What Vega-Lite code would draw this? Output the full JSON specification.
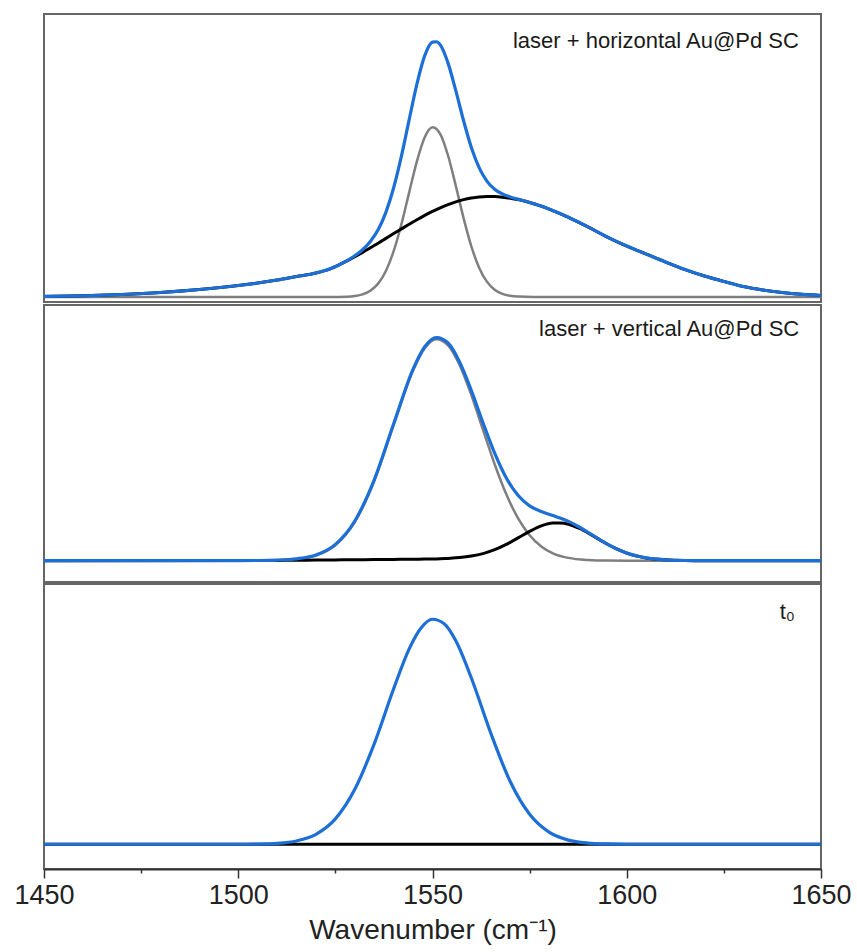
{
  "$schema": "https://vega.github.io/schema/vega-lite/v6.json",
  "padding": {"left": 12, "top": 13, "right": 0, "bottom": 0},
  "spacing": 0,
  "config": {
    "view": {"stroke": "#666666", "strokeWidth": 2},
    "font": "Liberation Sans"
  },
  "datasets": {
    "top": [
      {"series": "band A", "wavenumber": 1450, "intensity": 0},
      {"series": "band A", "wavenumber": 1500, "intensity": 0},
      {"series": "band A", "wavenumber": 1524, "intensity": 0},
      {"series": "band A", "wavenumber": 1528, "intensity": 0.3},
      {"series": "band A", "wavenumber": 1530, "intensity": 1.0},
      {"series": "band A", "wavenumber": 1532, "intensity": 2.6},
      {"series": "band A", "wavenumber": 1534, "intensity": 6.3},
      {"series": "band A", "wavenumber": 1536, "intensity": 13.4},
      {"series": "band A", "wavenumber": 1538, "intensity": 26.1},
      {"series": "band A", "wavenumber": 1540, "intensity": 45.9},
      {"series": "band A", "wavenumber": 1542, "intensity": 72.9},
      {"series": "band A", "wavenumber": 1544, "intensity": 104.8},
      {"series": "band A", "wavenumber": 1546, "intensity": 136.1},
      {"series": "band A", "wavenumber": 1548, "intensity": 160},
      {"series": "band A", "wavenumber": 1550, "intensity": 170},
      {"series": "band A", "wavenumber": 1552, "intensity": 163.2},
      {"series": "band A", "wavenumber": 1554, "intensity": 141.7},
      {"series": "band A", "wavenumber": 1556, "intensity": 111.3},
      {"series": "band A", "wavenumber": 1558, "intensity": 79},
      {"series": "band A", "wavenumber": 1560, "intensity": 50.7},
      {"series": "band A", "wavenumber": 1562, "intensity": 29.4},
      {"series": "band A", "wavenumber": 1564, "intensity": 15.4},
      {"series": "band A", "wavenumber": 1566, "intensity": 7.3},
      {"series": "band A", "wavenumber": 1568, "intensity": 3.1},
      {"series": "band A", "wavenumber": 1570, "intensity": 1.2},
      {"series": "band A", "wavenumber": 1572, "intensity": 0.4},
      {"series": "band A", "wavenumber": 1576, "intensity": 0},
      {"series": "band A", "wavenumber": 1650, "intensity": 0},

      {"series": "band B", "wavenumber": 1450, "intensity": 0.6},
      {"series": "band B", "wavenumber": 1460, "intensity": 1.2},
      {"series": "band B", "wavenumber": 1470, "intensity": 2.5},
      {"series": "band B", "wavenumber": 1480, "intensity": 4.5},
      {"series": "band B", "wavenumber": 1490, "intensity": 7.5},
      {"series": "band B", "wavenumber": 1500, "intensity": 11.5},
      {"series": "band B", "wavenumber": 1505, "intensity": 14},
      {"series": "band B", "wavenumber": 1510, "intensity": 17},
      {"series": "band B", "wavenumber": 1515, "intensity": 20.5},
      {"series": "band B", "wavenumber": 1520, "intensity": 24},
      {"series": "band B", "wavenumber": 1524, "intensity": 28.7},
      {"series": "band B", "wavenumber": 1528, "intensity": 36.2},
      {"series": "band B", "wavenumber": 1530, "intensity": 40.3},
      {"series": "band B", "wavenumber": 1532, "intensity": 44.7},
      {"series": "band B", "wavenumber": 1534, "intensity": 49.3},
      {"series": "band B", "wavenumber": 1536, "intensity": 53.9},
      {"series": "band B", "wavenumber": 1538, "intensity": 58.7},
      {"series": "band B", "wavenumber": 1540, "intensity": 63.5},
      {"series": "band B", "wavenumber": 1542, "intensity": 68.2},
      {"series": "band B", "wavenumber": 1544, "intensity": 72.9},
      {"series": "band B", "wavenumber": 1546, "intensity": 77.4},
      {"series": "band B", "wavenumber": 1548, "intensity": 81.7},
      {"series": "band B", "wavenumber": 1550, "intensity": 85.7},
      {"series": "band B", "wavenumber": 1552, "intensity": 89.3},
      {"series": "band B", "wavenumber": 1554, "intensity": 92.5},
      {"series": "band B", "wavenumber": 1556, "intensity": 95.3},
      {"series": "band B", "wavenumber": 1558, "intensity": 97.5},
      {"series": "band B", "wavenumber": 1560, "intensity": 99.1},
      {"series": "band B", "wavenumber": 1562, "intensity": 100.2},
      {"series": "band B", "wavenumber": 1564, "intensity": 100.7},
      {"series": "band B", "wavenumber": 1566, "intensity": 100.6},
      {"series": "band B", "wavenumber": 1568, "intensity": 100},
      {"series": "band B", "wavenumber": 1570, "intensity": 99},
      {"series": "band B", "wavenumber": 1572, "intensity": 97.6},
      {"series": "band B", "wavenumber": 1575, "intensity": 94.7},
      {"series": "band B", "wavenumber": 1578, "intensity": 91},
      {"series": "band B", "wavenumber": 1580, "intensity": 88.1},
      {"series": "band B", "wavenumber": 1585, "intensity": 79.8},
      {"series": "band B", "wavenumber": 1590, "intensity": 70.2},
      {"series": "band B", "wavenumber": 1595, "intensity": 60},
      {"series": "band B", "wavenumber": 1600, "intensity": 51},
      {"series": "band B", "wavenumber": 1605, "intensity": 43},
      {"series": "band B", "wavenumber": 1610, "intensity": 35},
      {"series": "band B", "wavenumber": 1615, "intensity": 27.5},
      {"series": "band B", "wavenumber": 1620, "intensity": 21},
      {"series": "band B", "wavenumber": 1625, "intensity": 15.5},
      {"series": "band B", "wavenumber": 1630, "intensity": 10.5},
      {"series": "band B", "wavenumber": 1635, "intensity": 7},
      {"series": "band B", "wavenumber": 1640, "intensity": 4.5},
      {"series": "band B", "wavenumber": 1645, "intensity": 2.7},
      {"series": "band B", "wavenumber": 1650, "intensity": 1.5},

      {"series": "sum", "wavenumber": 1450, "intensity": 0.6},
      {"series": "sum", "wavenumber": 1460, "intensity": 1.2},
      {"series": "sum", "wavenumber": 1470, "intensity": 2.5},
      {"series": "sum", "wavenumber": 1480, "intensity": 4.5},
      {"series": "sum", "wavenumber": 1490, "intensity": 7.5},
      {"series": "sum", "wavenumber": 1500, "intensity": 11.5},
      {"series": "sum", "wavenumber": 1505, "intensity": 14},
      {"series": "sum", "wavenumber": 1510, "intensity": 17},
      {"series": "sum", "wavenumber": 1515, "intensity": 20.5},
      {"series": "sum", "wavenumber": 1520, "intensity": 24},
      {"series": "sum", "wavenumber": 1524, "intensity": 28.7},
      {"series": "sum", "wavenumber": 1528, "intensity": 36.5},
      {"series": "sum", "wavenumber": 1530, "intensity": 41.3},
      {"series": "sum", "wavenumber": 1532, "intensity": 47.3},
      {"series": "sum", "wavenumber": 1534, "intensity": 55.6},
      {"series": "sum", "wavenumber": 1536, "intensity": 67.3},
      {"series": "sum", "wavenumber": 1538, "intensity": 84.8},
      {"series": "sum", "wavenumber": 1540, "intensity": 109.4},
      {"series": "sum", "wavenumber": 1542, "intensity": 141.1},
      {"series": "sum", "wavenumber": 1544, "intensity": 177.7},
      {"series": "sum", "wavenumber": 1546, "intensity": 213.5},
      {"series": "sum", "wavenumber": 1548, "intensity": 241.7},
      {"series": "sum", "wavenumber": 1550, "intensity": 255.2},
      {"series": "sum", "wavenumber": 1551, "intensity": 255.6},
      {"series": "sum", "wavenumber": 1552, "intensity": 252.5},
      {"series": "sum", "wavenumber": 1554, "intensity": 234.2},
      {"series": "sum", "wavenumber": 1556, "intensity": 206.6},
      {"series": "sum", "wavenumber": 1558, "intensity": 176.5},
      {"series": "sum", "wavenumber": 1560, "intensity": 149.8},
      {"series": "sum", "wavenumber": 1562, "intensity": 129.6},
      {"series": "sum", "wavenumber": 1564, "intensity": 116.1},
      {"series": "sum", "wavenumber": 1566, "intensity": 107.9},
      {"series": "sum", "wavenumber": 1568, "intensity": 103.1},
      {"series": "sum", "wavenumber": 1570, "intensity": 100.2},
      {"series": "sum", "wavenumber": 1572, "intensity": 98},
      {"series": "sum", "wavenumber": 1575, "intensity": 94.7},
      {"series": "sum", "wavenumber": 1578, "intensity": 91},
      {"series": "sum", "wavenumber": 1580, "intensity": 88.1},
      {"series": "sum", "wavenumber": 1585, "intensity": 79.8},
      {"series": "sum", "wavenumber": 1590, "intensity": 70.2},
      {"series": "sum", "wavenumber": 1595, "intensity": 60},
      {"series": "sum", "wavenumber": 1600, "intensity": 51},
      {"series": "sum", "wavenumber": 1605, "intensity": 43},
      {"series": "sum", "wavenumber": 1610, "intensity": 35},
      {"series": "sum", "wavenumber": 1615, "intensity": 27.5},
      {"series": "sum", "wavenumber": 1620, "intensity": 21},
      {"series": "sum", "wavenumber": 1625, "intensity": 15.5},
      {"series": "sum", "wavenumber": 1630, "intensity": 10.5},
      {"series": "sum", "wavenumber": 1635, "intensity": 7},
      {"series": "sum", "wavenumber": 1640, "intensity": 4.5},
      {"series": "sum", "wavenumber": 1645, "intensity": 2.7},
      {"series": "sum", "wavenumber": 1650, "intensity": 1.5}
    ],
    "mid": [
      {"series": "band A", "wavenumber": 1450, "intensity": 0},
      {"series": "band A", "wavenumber": 1505, "intensity": 0},
      {"series": "band A", "wavenumber": 1510, "intensity": 0.3},
      {"series": "band A", "wavenumber": 1515, "intensity": 1.4},
      {"series": "band A", "wavenumber": 1520, "intensity": 5.1},
      {"series": "band A", "wavenumber": 1525, "intensity": 15.5},
      {"series": "band A", "wavenumber": 1530, "intensity": 38.7},
      {"series": "band A", "wavenumber": 1535, "intensity": 79.7},
      {"series": "band A", "wavenumber": 1540, "intensity": 135.6},
      {"series": "band A", "wavenumber": 1545, "intensity": 190.1},
      {"series": "band A", "wavenumber": 1548, "intensity": 212.4},
      {"series": "band A", "wavenumber": 1551, "intensity": 221.4},
      {"series": "band A", "wavenumber": 1554, "intensity": 215.4},
      {"series": "band A", "wavenumber": 1557, "intensity": 195.5},
      {"series": "band A", "wavenumber": 1560, "intensity": 165.6},
      {"series": "band A", "wavenumber": 1563, "intensity": 130.8},
      {"series": "band A", "wavenumber": 1566, "intensity": 96.5},
      {"series": "band A", "wavenumber": 1569, "intensity": 66.4},
      {"series": "band A", "wavenumber": 1572, "intensity": 42.6},
      {"series": "band A", "wavenumber": 1575, "intensity": 25.5},
      {"series": "band A", "wavenumber": 1578, "intensity": 14.3},
      {"series": "band A", "wavenumber": 1581, "intensity": 7.4},
      {"series": "band A", "wavenumber": 1585, "intensity": 2.8},
      {"series": "band A", "wavenumber": 1590, "intensity": 0.7},
      {"series": "band A", "wavenumber": 1595, "intensity": 0.1},
      {"series": "band A", "wavenumber": 1600, "intensity": 0},
      {"series": "band A", "wavenumber": 1650, "intensity": 0},

      {"series": "band B", "wavenumber": 1450, "intensity": 0},
      {"series": "band B", "wavenumber": 1500, "intensity": 0.1},
      {"series": "band B", "wavenumber": 1510, "intensity": 0.3},
      {"series": "band B", "wavenumber": 1515, "intensity": 0.5},
      {"series": "band B", "wavenumber": 1520, "intensity": 0.6},
      {"series": "band B", "wavenumber": 1525, "intensity": 0.8},
      {"series": "band B", "wavenumber": 1530, "intensity": 1},
      {"series": "band B", "wavenumber": 1535, "intensity": 1.1},
      {"series": "band B", "wavenumber": 1540, "intensity": 1.3},
      {"series": "band B", "wavenumber": 1545, "intensity": 1.5},
      {"series": "band B", "wavenumber": 1548, "intensity": 1.6},
      {"series": "band B", "wavenumber": 1551, "intensity": 1.7},
      {"series": "band B", "wavenumber": 1554, "intensity": 2.3},
      {"series": "band B", "wavenumber": 1557, "intensity": 3.1},
      {"series": "band B", "wavenumber": 1560, "intensity": 4.6},
      {"series": "band B", "wavenumber": 1563, "intensity": 7.1},
      {"series": "band B", "wavenumber": 1566, "intensity": 11},
      {"series": "band B", "wavenumber": 1569, "intensity": 16.3},
      {"series": "band B", "wavenumber": 1572, "intensity": 22.8},
      {"series": "band B", "wavenumber": 1575, "intensity": 29.3},
      {"series": "band B", "wavenumber": 1578, "intensity": 34.8},
      {"series": "band B", "wavenumber": 1581, "intensity": 37.7},
      {"series": "band B", "wavenumber": 1583, "intensity": 37.8},
      {"series": "band B", "wavenumber": 1585, "intensity": 36.5},
      {"series": "band B", "wavenumber": 1588, "intensity": 32},
      {"series": "band B", "wavenumber": 1591, "intensity": 25.6},
      {"series": "band B", "wavenumber": 1594, "intensity": 18.7},
      {"series": "band B", "wavenumber": 1597, "intensity": 12.5},
      {"series": "band B", "wavenumber": 1600, "intensity": 7.6},
      {"series": "band B", "wavenumber": 1605, "intensity": 2.8},
      {"series": "band B", "wavenumber": 1610, "intensity": 0.9},
      {"series": "band B", "wavenumber": 1615, "intensity": 0.2},
      {"series": "band B", "wavenumber": 1620, "intensity": 0},
      {"series": "band B", "wavenumber": 1650, "intensity": 0},

      {"series": "sum", "wavenumber": 1450, "intensity": 0},
      {"series": "sum", "wavenumber": 1500, "intensity": 0.1},
      {"series": "sum", "wavenumber": 1505, "intensity": 0.2},
      {"series": "sum", "wavenumber": 1510, "intensity": 0.6},
      {"series": "sum", "wavenumber": 1515, "intensity": 1.9},
      {"series": "sum", "wavenumber": 1520, "intensity": 5.7},
      {"series": "sum", "wavenumber": 1525, "intensity": 16.3},
      {"series": "sum", "wavenumber": 1530, "intensity": 39.7},
      {"series": "sum", "wavenumber": 1535, "intensity": 80.8},
      {"series": "sum", "wavenumber": 1540, "intensity": 136.9},
      {"series": "sum", "wavenumber": 1545, "intensity": 191.6},
      {"series": "sum", "wavenumber": 1548, "intensity": 214},
      {"series": "sum", "wavenumber": 1551, "intensity": 223.1},
      {"series": "sum", "wavenumber": 1554, "intensity": 217.7},
      {"series": "sum", "wavenumber": 1557, "intensity": 198.6},
      {"series": "sum", "wavenumber": 1560, "intensity": 170.2},
      {"series": "sum", "wavenumber": 1563, "intensity": 137.9},
      {"series": "sum", "wavenumber": 1566, "intensity": 107.5},
      {"series": "sum", "wavenumber": 1569, "intensity": 82.7},
      {"series": "sum", "wavenumber": 1572, "intensity": 65.4},
      {"series": "sum", "wavenumber": 1575, "intensity": 54.8},
      {"series": "sum", "wavenumber": 1578, "intensity": 49.1},
      {"series": "sum", "wavenumber": 1581, "intensity": 45.1},
      {"series": "sum", "wavenumber": 1583, "intensity": 42.4},
      {"series": "sum", "wavenumber": 1585, "intensity": 39.3},
      {"series": "sum", "wavenumber": 1588, "intensity": 33.2},
      {"series": "sum", "wavenumber": 1591, "intensity": 26},
      {"series": "sum", "wavenumber": 1594, "intensity": 18.8},
      {"series": "sum", "wavenumber": 1597, "intensity": 12.5},
      {"series": "sum", "wavenumber": 1600, "intensity": 7.6},
      {"series": "sum", "wavenumber": 1605, "intensity": 2.8},
      {"series": "sum", "wavenumber": 1610, "intensity": 0.9},
      {"series": "sum", "wavenumber": 1615, "intensity": 0.2},
      {"series": "sum", "wavenumber": 1620, "intensity": 0},
      {"series": "sum", "wavenumber": 1650, "intensity": 0}
    ],
    "bot": [
      {"series": "band B", "wavenumber": 1450, "intensity": 0},
      {"series": "band B", "wavenumber": 1650, "intensity": 0},

      {"series": "sum", "wavenumber": 1450, "intensity": 0},
      {"series": "sum", "wavenumber": 1500, "intensity": 0},
      {"series": "sum", "wavenumber": 1505, "intensity": 0.2},
      {"series": "sum", "wavenumber": 1510, "intensity": 0.9},
      {"series": "sum", "wavenumber": 1515, "intensity": 3.3},
      {"series": "sum", "wavenumber": 1520, "intensity": 9.9},
      {"series": "sum", "wavenumber": 1525, "intensity": 25.3},
      {"series": "sum", "wavenumber": 1530, "intensity": 54.8},
      {"series": "sum", "wavenumber": 1535, "intensity": 100.2},
      {"series": "sum", "wavenumber": 1540, "intensity": 155.2},
      {"series": "sum", "wavenumber": 1544, "intensity": 195},
      {"series": "sum", "wavenumber": 1547, "intensity": 215.6},
      {"series": "sum", "wavenumber": 1550, "intensity": 224.5},
      {"series": "sum", "wavenumber": 1553, "intensity": 220},
      {"series": "sum", "wavenumber": 1556, "intensity": 203},
      {"series": "sum", "wavenumber": 1560, "intensity": 165.9},
      {"series": "sum", "wavenumber": 1565, "intensity": 110.9},
      {"series": "sum", "wavenumber": 1570, "intensity": 62.6},
      {"series": "sum", "wavenumber": 1575, "intensity": 29.9},
      {"series": "sum", "wavenumber": 1580, "intensity": 12.1},
      {"series": "sum", "wavenumber": 1585, "intensity": 4.1},
      {"series": "sum", "wavenumber": 1590, "intensity": 1.2},
      {"series": "sum", "wavenumber": 1595, "intensity": 0.3},
      {"series": "sum", "wavenumber": 1600, "intensity": 0},
      {"series": "sum", "wavenumber": 1650, "intensity": 0}
    ]
  },
  "vconcat": [
    {
      "width": 777,
      "height": 288,
      "data": {"name": "top"},
      "encoding": {
        "x": {"field": "wavenumber", "type": "quantitative", "scale": {"domain": [1450, 1650], "nice": false, "zero": false}, "axis": null},
        "y": {"field": "intensity", "type": "quantitative", "scale": {"domain": [-5, 283.4], "nice": false, "zero": false}, "axis": null}
      },
      "layer": [
        {"transform": [{"filter": "datum.series === 'band A'"}], "mark": {"type": "line", "color": "#7f7f7f", "strokeWidth": 2.5, "interpolate": "monotone"}},
        {"transform": [{"filter": "datum.series === 'band B'"}], "mark": {"type": "line", "color": "#000000", "strokeWidth": 3, "interpolate": "monotone"}},
        {"transform": [{"filter": "datum.series === 'sum'"}], "mark": {"type": "line", "color": "#1c6fd6", "strokeWidth": 3.2, "interpolate": "monotone"}},
        {"transform": [{"filter": "datum.series === 'sum' && datum.wavenumber === 1450"}],
         "mark": {"type": "text", "align": "right", "baseline": "alphabetic", "fontSize": 22, "font": "Liberation Sans", "color": "#1a1a1a"},
         "encoding": {"x": {"datum": 1644.3, "type": "quantitative"}, "y": {"datum": 249.7, "type": "quantitative"}, "text": {"value": "laser + horizontal Au@Pd SC"}}}
      ]
    },
    {
      "width": 777,
      "height": 277,
      "data": {"name": "mid"},
      "encoding": {
        "x": {"field": "wavenumber", "type": "quantitative", "scale": {"domain": [1450, 1650], "nice": false, "zero": false}, "axis": null},
        "y": {"field": "intensity", "type": "quantitative", "scale": {"domain": [-21.3, 255.7], "nice": false, "zero": false}, "axis": null}
      },
      "layer": [
        {"transform": [{"filter": "datum.series === 'band A'"}], "mark": {"type": "line", "color": "#7f7f7f", "strokeWidth": 2.5, "interpolate": "monotone"}},
        {"transform": [{"filter": "datum.series === 'band B'"}], "mark": {"type": "line", "color": "#000000", "strokeWidth": 3, "interpolate": "monotone"}},
        {"transform": [{"filter": "datum.series === 'sum'"}], "mark": {"type": "line", "color": "#1c6fd6", "strokeWidth": 3.2, "interpolate": "monotone"}},
        {"transform": [{"filter": "datum.series === 'sum' && datum.wavenumber === 1450"}],
         "mark": {"type": "text", "align": "right", "baseline": "alphabetic", "fontSize": 22, "font": "Liberation Sans", "color": "#1a1a1a"},
         "encoding": {"x": {"datum": 1644.4, "type": "quantitative"}, "y": {"datum": 225, "type": "quantitative"}, "text": {"value": "laser + vertical Au@Pd SC"}}}
      ]
    },
    {
      "width": 777,
      "height": 285,
      "data": {"name": "bot"},
      "encoding": {
        "x": {
          "field": "wavenumber", "type": "quantitative",
          "scale": {"domain": [1450, 1650], "nice": false, "zero": false},
          "axis": {
            "title": "Wavenumber (cm⁻¹)",
            "values": [1450, 1475, 1500, 1525, 1550, 1575, 1600, 1625, 1650],
            "format": "d",
            "labelExpr": "datum.value % 50 === 0 ? datum.label : ''",
            "labelFlush": false,
            "tickSize": {"condition": {"test": "datum.value % 50 === 0", "value": 9}, "value": 4},
            "tickColor": "#333333",
            "tickWidth": 1.5,
            "domainColor": "#333333",
            "domainWidth": 2,
            "grid": false,
            "labelFont": "Liberation Sans",
            "labelFontSize": 27,
            "labelColor": "#222222",
            "labelPadding": 4,
            "labelOverlap": false,
            "titleFont": "Liberation Sans",
            "titleFontSize": 28,
            "titleFontWeight": "normal",
            "titleColor": "#222222",
            "titlePadding": 8
          }
        },
        "y": {"field": "intensity", "type": "quantitative", "scale": {"domain": [-24.7, 259.7], "nice": false, "zero": false}, "axis": null}
      },
      "layer": [
        {"transform": [{"filter": "datum.series === 'band B'"}], "mark": {"type": "line", "color": "#000000", "strokeWidth": 3, "interpolate": "monotone"}},
        {"transform": [{"filter": "datum.series === 'sum'"}], "mark": {"type": "line", "color": "#1c6fd6", "strokeWidth": 3.2, "interpolate": "monotone"}},
        {"transform": [{"filter": "datum.series === 'sum' && datum.wavenumber === 1450"}],
         "mark": {"type": "text", "align": "right", "baseline": "alphabetic", "fontSize": 22, "font": "Liberation Sans", "color": "#1a1a1a"},
         "encoding": {"x": {"datum": 1643.3, "type": "quantitative"}, "y": {"datum": 225, "type": "quantitative"}, "text": {"value": "t₀"}}}
      ]
    }
  ]
}
